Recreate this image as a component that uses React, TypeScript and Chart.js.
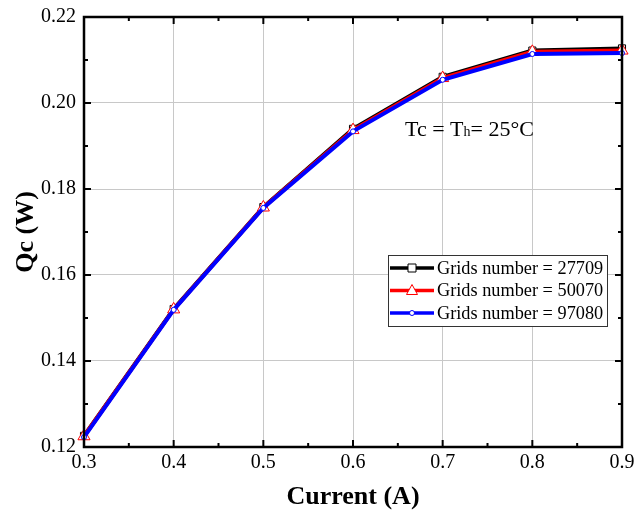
import React, { useEffect, useRef } from "react";
import { Chart, registerables } from "chart.js";
Chart.register(...registerables);

const currents = [0.3, 0.4, 0.5, 0.6, 0.7, 0.8, 0.9];
const qc27709 = [0.1226, 0.1521, 0.1758, 0.1940, 0.2061, 0.2122, 0.2127];
const qc50070 = [0.1225, 0.1520, 0.1757, 0.1937, 0.2058, 0.2119, 0.2122];
const qc97080 = [0.1223, 0.1519, 0.1756, 0.1934, 0.2054, 0.2114, 0.2116];
const seriesLabels = ["Grids number = 27709", "Grids number = 50070", "Grids number = 97080"];
const seriesColors = ["#000000", "#ff0000", "#0000ff"];
const xMin = 0.3, xMax = 0.9, xStep = 0.1;
const yMin = 0.12, yMax = 0.22, yStep = 0.02;

const SERIF = "'Liberation Serif', 'Times New Roman', serif";

function drawMarker(ctx: CanvasRenderingContext2D, kind: number, x: number, y: number, color: string) {
  ctx.save();
  ctx.fillStyle = "#ffffff";
  ctx.strokeStyle = color;
  ctx.lineWidth = 1;
  ctx.beginPath();
  if (kind === 0) {
    ctx.rect(x - 4, y - 4, 8, 8);
  } else if (kind === 1) {
    ctx.moveTo(x, y - 6);
    ctx.lineTo(x + 5.5, y + 4);
    ctx.lineTo(x - 5.5, y + 4);
    ctx.closePath();
  } else {
    ctx.arc(x, y, 2.5, 0, Math.PI * 2);
  }
  ctx.fill();
  ctx.stroke();
  ctx.restore();
}

const framePlugin = {
  id: "frameTicks",
  afterDraw(chart: any) {
    const ctx = chart.ctx as CanvasRenderingContext2D;
    const { left, right, top, bottom } = chart.chartArea;
    const xs = chart.scales.x;
    const ys = chart.scales.y;
    ctx.save();
    ctx.strokeStyle = "#000";
    ctx.lineWidth = 2;
    for (let i = 0; i <= 12; i++) {
      const v = xMin + i * 0.05;
      const px = xs.getPixelForValue(v);
      const len = i % 2 === 0 ? 7 : 4;
      ctx.beginPath();
      ctx.moveTo(px, bottom);
      ctx.lineTo(px, bottom - len);
      ctx.moveTo(px, top);
      ctx.lineTo(px, top + len);
      ctx.stroke();
    }
    for (let i = 0; i <= 10; i++) {
      const v = yMin + i * 0.01;
      const py = ys.getPixelForValue(v);
      const len = i % 2 === 0 ? 7 : 4;
      ctx.beginPath();
      ctx.moveTo(left, py);
      ctx.lineTo(left + len, py);
      ctx.moveTo(right, py);
      ctx.lineTo(right - len, py);
      ctx.stroke();
    }
    ctx.lineWidth = 2.5;
    ctx.strokeRect(left, top, right - left, bottom - top);

    // annotation
    ctx.fillStyle = "#000";
    ctx.textBaseline = "alphabetic";
    ctx.textAlign = "left";
    const ax = xs.getPixelForValue(0.658);
    const ay = ys.getPixelForValue(0.1923);
    ctx.font = `22px ${SERIF}`;
    const t = "Tc = T";
    ctx.fillText(t, ax, ay);
    const w = ctx.measureText(t).width;
    ctx.font = `14px ${SERIF}`;
    ctx.fillText("h", ax + w, ay);
    const w2 = ctx.measureText("h").width;
    ctx.font = `22px ${SERIF}`;
    ctx.fillText("= 25°C", ax + w + w2, ay);

    // legend
    const lx = 388, ly = 255, lw = 219, lh = 71;
    ctx.fillStyle = "#fff";
    ctx.fillRect(lx, ly, lw, lh);
    ctx.lineWidth = 1;
    ctx.strokeStyle = "#333";
    ctx.strokeRect(lx + 0.5, ly + 0.5, lw, lh);
    for (let i = 0; i < 3; i++) {
      const ry = ly + 13 + i * 22.5;
      ctx.strokeStyle = seriesColors[i];
      ctx.lineWidth = 3.5;
      ctx.beginPath();
      ctx.moveTo(lx + 2, ry);
      ctx.lineTo(lx + 46, ry);
      ctx.stroke();
      drawMarker(ctx, i, lx + 24, ry, seriesColors[i]);
      ctx.fillStyle = "#000";
      ctx.font = `18.3px ${SERIF}`;
      ctx.textBaseline = "middle";
      ctx.fillText(seriesLabels[i], lx + 49, ry + 1);
    }
    ctx.restore();
  },
};

export default function App() {
  const ref = useRef<HTMLCanvasElement>(null);
  useEffect(() => {
    if (!ref.current) return;
    const mk = (data: number[], i: number, style: any, radius: number, order: number) => ({
      label: seriesLabels[i],
      data: currents.map((c, k) => ({ x: c, y: data[k] })),
      borderColor: seriesColors[i],
      backgroundColor: "#ffffff",
      borderWidth: 4,
      pointStyle: style,
      pointRadius: radius,
      pointBorderWidth: 1,
      pointBackgroundColor: "#ffffff",
      pointBorderColor: seriesColors[i],
      tension: 0,
      clip: false,
      order,
    });
    const chart = new Chart(ref.current, {
      type: "line",
      data: {
        datasets: [
          mk(qc27709, 0, "rect", 5, 2),
          mk(qc50070, 1, "triangle", 7, 1),
          mk(qc97080, 2, "circle", 2.5, 0),
        ],
      },
      options: {
        animation: false,
        responsive: false,
        maintainAspectRatio: false,
        layout: { padding: { left: 11, right: 12, top: 17, bottom: 0 } },
        plugins: { legend: { display: false }, tooltip: { enabled: false } },
        scales: {
          x: {
            type: "linear",
            min: xMin,
            max: xMax,
            ticks: {
              stepSize: xStep,
              padding: 4,
              color: "#000",
              font: { family: SERIF, size: 20 },
              callback: (v: any) => Number(v).toFixed(1),
            },
            grid: { color: "#c8c8c8", lineWidth: 1, drawTicks: false },
            border: { display: false },
            title: {
              display: true,
              text: "Current (A)",
              color: "#000",
              font: { family: SERIF, size: 26, weight: "bold" },
              padding: { top: 0, bottom: 0 },
            },
            afterFit: (s: any) => {
              s.height = 66;
              s.paddingLeft = 0;
              s.paddingRight = 0;
            },
          },
          y: {
            type: "linear",
            min: yMin,
            max: yMax,
            ticks: {
              stepSize: yStep,
              padding: 8,
              color: "#000",
              font: { family: SERIF, size: 20 },
              callback: (v: any) => Number(v).toFixed(2),
            },
            grid: { color: "#c8c8c8", lineWidth: 1, drawTicks: false },
            border: { display: false },
            title: {
              display: true,
              text: "Qc (W)",
              color: "#000",
              font: { family: SERIF, size: 26, weight: "bold" },
              padding: { top: 0, bottom: 4 },
            },
            afterFit: (s: any) => {
              s.width = 73;
              s.paddingTop = 0;
              s.paddingBottom = 0;
            },
          },
        },
      },
      plugins: [framePlugin],
    });
    return () => chart.destroy();
  }, []);
  return (
    <div style={{ position: "fixed", left: 0, top: 0, width: 634, height: 513, background: "#fff" }}>
      <canvas ref={ref} width={634} height={513} style={{ width: 634, height: 513 }} />
    </div>
  );
}
